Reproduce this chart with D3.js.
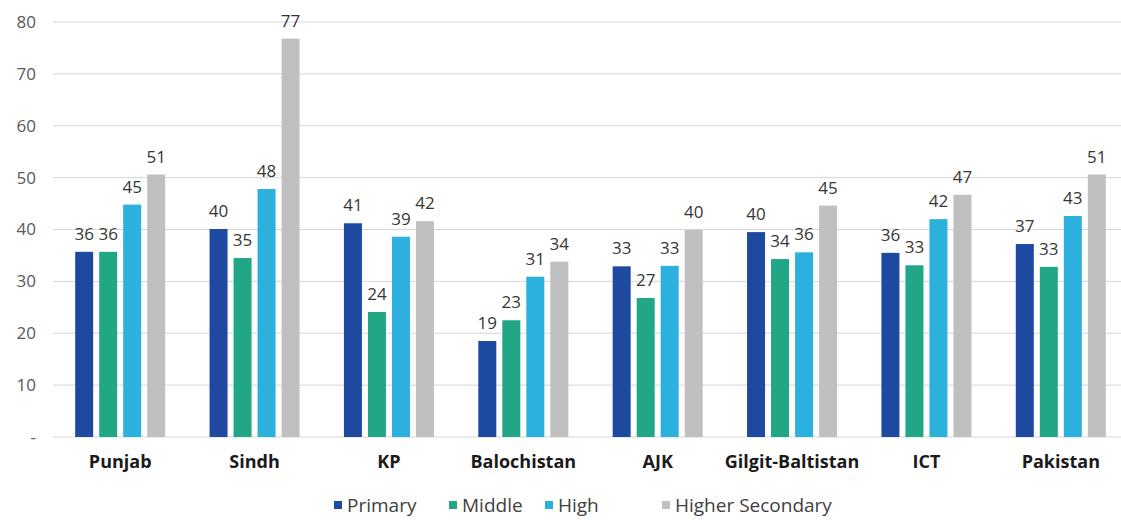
<!DOCTYPE html>
<html>
<head>
<meta charset="utf-8">
<script src="https://cdn.jsdelivr.net/npm/d3@7"></script>
<style>
  html, body { margin: 0; padding: 0; background: #ffffff; }
  svg { display: block; }
</style>
</head>
<body>
<svg id="chart" width="1121" height="521"></svg>
<script>
const categories = ["Punjab", "Sindh", "KP", "Balochistan", "AJK", "Gilgit-Baltistan", "ICT", "Pakistan"];
const seriesNames = ["Primary", "Middle", "High", "Higher Secondary"];
const primary = [35.7, 40.1, 41.2, 18.5, 32.9, 39.5, 35.5, 37.2];
const middle = [35.7, 34.5, 24.1, 22.5, 26.8, 34.3, 33.1, 32.8];
const high = [44.8, 47.8, 38.6, 30.9, 33.0, 35.6, 42.0, 42.6];
const higherSecondary = [50.6, 76.8, 41.6, 33.8, 39.9, 44.6, 46.7, 50.6];
const yTicks = [0, 10, 20, 30, 40, 50, 60, 70, 80];
const colors = ["#1d4aa0", "#21a785", "#2cb0de", "#c0c0c0"];

const seriesValues = [primary, middle, high, higherSecondary];

const svg = d3.select("#chart");
const mLeft = 53, mRight = 1128, mTop = 22, mBottom = 437;

const y = d3.scaleLinear().domain([0, 80]).range([mBottom, mTop]);
const x0 = d3.scaleBand().domain(categories).range([mLeft, mRight]).paddingInner(0.33).paddingOuter(0.165);
const x1 = d3.scaleBand().domain(seriesNames).range([0, x0.bandwidth()]).paddingInner(0.25).paddingOuter(0);
const color = d3.scaleOrdinal().domain(seriesNames).range(colors);

// gridlines
svg.append("g").selectAll("line").data(yTicks).join("line")
  .attr("x1", mLeft).attr("x2", 1121)
  .attr("y1", d => y(d)).attr("y2", d => y(d))
  .attr("stroke", "#d6d6d6").attr("stroke-width", 1);

// y-axis labels
const yAxis = d3.axisLeft(y).tickValues(yTicks).tickSize(0).tickPadding(0)
  .tickFormat(d => d === 0 ? "-" : d);
const ya = svg.append("g").attr("transform", "translate(36,0)").call(yAxis);
ya.select(".domain").remove();
ya.selectAll("text").attr("font-family", "'Open Sans', sans-serif").attr("font-size", 17)
  .attr("fill", "#595959");

// bars
const rows = categories.map((c, i) => ({ cat: c, vals: seriesNames.map((s, j) => ({ s, v: seriesValues[j][i] })) }));
const groups = svg.append("g").selectAll("g").data(rows).join("g")
  .attr("transform", d => `translate(${x0(d.cat)},0)`);
groups.selectAll("rect").data(d => d.vals).join("rect")
  .attr("x", d => x1(d.s)).attr("width", x1.bandwidth())
  .attr("y", d => y(d.v)).attr("height", d => y(0) - y(d.v))
  .attr("fill", d => color(d.s));
groups.selectAll("text").data(d => d.vals).join("text")
  .attr("x", d => x1(d.s) + x1.bandwidth() / 2)
  .attr("y", d => y(d.v) - 12)
  .attr("text-anchor", "middle")
  .attr("font-family", "'Open Sans', sans-serif").attr("font-size", 17)
  .attr("fill", "#363636")
  .text(d => Math.round(d.v));

// x-axis labels
const xAxis = d3.axisBottom(x0).tickSize(0).tickPadding(0);
const xa = svg.append("g").attr("transform", `translate(0,${mBottom + 18})`).call(xAxis);
xa.select(".domain").remove();
xa.selectAll("text").attr("font-family", "'Open Sans', sans-serif").attr("font-size", 18)
  .attr("font-weight", 700).attr("fill", "#1a1a1a");

// legend
const legendX = [334, 449, 545, 662];
const lg = svg.append("g").selectAll("g").data(seriesNames).join("g")
  .attr("transform", (d, i) => `translate(${legendX[i]},505)`);
lg.append("rect").attr("x", 0).attr("y", -4).attr("width", 8).attr("height", 8).attr("fill", d => color(d));
lg.append("text").attr("x", 13).attr("y", 0).attr("dy", "0.35em")
  .attr("font-family", "'Open Sans', sans-serif").attr("font-size", 19).attr("fill", "#404040")
  .text(d => d);
</script>
</body>
</html>
